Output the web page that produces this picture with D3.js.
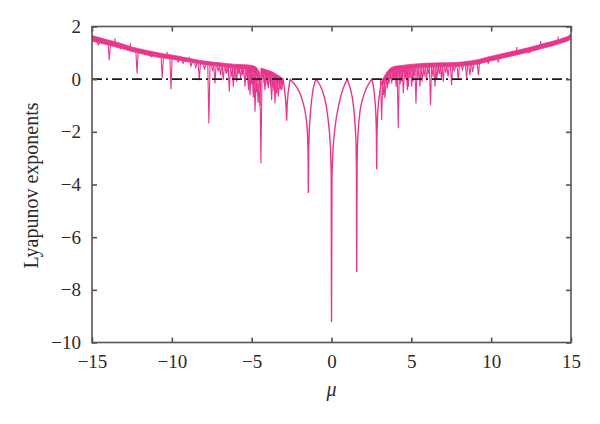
<!DOCTYPE html>
<html>
<head>
<meta charset="utf-8">
<script src="https://cdn.jsdelivr.net/npm/d3@7"></script>
<style>
  html, body { margin: 0; padding: 0; background: #fff; }
  svg { display: block; }
  text { font-family: "Liberation Serif", "DejaVu Serif", serif; fill: #2a2a2a; }
</style>
</head>
<body>
<svg id="chart" width="600" height="424"></svg>
<script>
// ---------------- DATA ----------------
const xTicks = [-15, -10, -5, 0, 5, 10, 15];
const yTicks = [2, 0, -2, -4, -6, -8, -10];
const xLabel = "μ";
const yLabel = "Lyapunov exponents";

// dense chaotic band, left part (μ, upper edge, lower edge)
const leftBandMu  = [-15, -14.5, -14, -13.5, -13, -12.5, -12, -11.5, -11, -10.5, -10, -9.5, -9, -8.5, -8, -7.5, -7, -6.5, -6, -5.5, -5.2, -4.95, -4.7, -4.5, -4.44];
const leftBandTop = [1.66, 1.57, 1.49, 1.41, 1.32, 1.22, 1.15, 1.08, 1.02, 0.96, 0.92, 0.86, 0.80, 0.74, 0.69, 0.65, 0.62, 0.59, 0.56, 0.55, 0.54, 0.52, 0.45, 0.25, 0.0];
const leftBandBot = [1.44, 1.37, 1.30, 1.22, 1.14, 1.05, 0.98, 0.91, 0.85, 0.80, 0.76, 0.71, 0.66, 0.61, 0.56, 0.52, 0.49, 0.45, 0.42, 0.40, 0.36, 0.30, 0.15, -0.15, -0.4];

// chaotic band just left of the periodic windows
const midBandMu  = [-4.42, -4.3, -4.1, -3.9, -3.7, -3.5, -3.3, -3.15, -3.03];
const midBandTop = [0.42, 0.40, 0.36, 0.32, 0.27, 0.20, 0.13, 0.07, 0.02];
const midBandBot = [0.20, 0.18, 0.14, 0.10, 0.04, -0.04, -0.10, -0.15, -0.2];

// dense chaotic band, right part
const rightBandMu  = [3.2, 3.35, 3.5, 3.7, 3.9, 4.1, 4.4, 4.8, 5.3, 5.8, 6.3, 6.8, 7.3, 7.8, 8.3, 8.8, 9.3, 9.8, 10.3, 10.8, 11.3, 11.8, 12.3, 12.8, 13.3, 13.8, 14.3, 14.8, 15];
const rightBandTop = [0.0, 0.15, 0.30, 0.42, 0.48, 0.50, 0.52, 0.55, 0.58, 0.60, 0.61, 0.62, 0.62, 0.63, 0.66, 0.70, 0.76, 0.84, 0.91, 0.98, 1.05, 1.12, 1.19, 1.27, 1.35, 1.43, 1.52, 1.62, 1.72];
const rightBandBot = [-0.15, -0.05, 0.08, 0.22, 0.30, 0.33, 0.36, 0.39, 0.43, 0.45, 0.46, 0.47, 0.47, 0.48, 0.50, 0.54, 0.59, 0.67, 0.74, 0.81, 0.88, 0.95, 1.02, 1.10, 1.18, 1.26, 1.35, 1.45, 1.54];

// periodic windows in the middle (smooth curve with cusps)
const archMu = [-3.03, -2.95, -2.88, -2.84, -2.81, -2.78, -2.72, -2.65, -2.58, -2.45, -2.3, -2.15, -2.0, -1.88, -1.77, -1.66, -1.57, -1.51, -1.47, -1.45, -1.43, -1.39, -1.33, -1.25, -1.15, -1.05, -0.96, -0.86, -0.72, -0.58, -0.45, -0.33, -0.22, -0.13, -0.06, -0.02, 0.0, 0.03, 0.1, 0.2, 0.32, 0.45, 0.58, 0.7, 0.84, 0.99, 1.1, 1.2, 1.3, 1.4, 1.47, 1.53, 1.56, 1.58, 1.6, 1.64, 1.7, 1.8, 1.92, 2.07, 2.22, 2.38, 2.53, 2.6, 2.67, 2.73, 2.78, 2.81, 2.83, 2.85, 2.89, 2.95, 3.03, 3.12, 3.2];
const archV  = [0.0, -0.35, -0.75, -1.1, -1.56, -1.0, -0.55, -0.22, 0.0, -0.1, -0.2, -0.33, -0.5, -0.7, -0.92, -1.2, -1.55, -2.0, -2.7, -4.3, -2.7, -1.9, -1.35, -0.8, -0.38, -0.13, 0.0, -0.08, -0.23, -0.42, -0.68, -1.0, -1.5, -2.0, -2.6, -3.6, -9.2, -3.6, -2.6, -1.9, -1.4, -0.98, -0.65, -0.4, -0.18, 0.0, -0.2, -0.4, -0.68, -1.15, -1.65, -2.3, -3.2, -7.3, -3.2, -2.3, -1.7, -1.15, -0.8, -0.52, -0.3, -0.13, 0.0, -0.2, -0.48, -0.85, -1.35, -2.0, -3.4, -2.0, -1.3, -0.85, -0.45, -0.15, 0.0];

// downward spikes out of the chaotic band (μ, depth)
const spikeMu = [-14.6, -13.92, -13.2, -12.18, -11.7, -11.3, -10.6, -10.05, -9.6, -9.3, -8.8, -8.5, -8.28, -7.95, -7.68, -7.45, -7.3, -7.1, -6.95, -6.78, -6.6, -6.5, -6.4, -6.25, -6.15, -6.05, -5.94, -5.85, -5.8, -5.69, -5.6, -5.55, -5.42, -5.3, -5.25, -5.2, -5.1, -5.05, -5.0, -4.9, -4.85, -4.79, -4.7, -4.6, -4.5, -4.42,
  -4.35, -4.3, -4.22, -4.17, -4.08, -4.02, -3.96, -3.85, -3.8, -3.75, -3.65, -3.6, -3.54, -3.43, -3.38, -3.33, -3.22, -3.17, -3.12,
  3.14, 3.25, 3.3, 3.35, 3.42, 3.49, 3.55, 3.6, 3.68, 3.77, 3.84, 3.9, 3.97, 4.05, 4.12, 4.18, 4.25, 4.3, 4.4, 4.45, 4.5, 4.62, 4.68, 4.75, 4.81, 4.92, 5.02, 5.1, 5.2, 5.29, 5.42, 5.54, 5.68, 5.8, 5.95, 6.05, 6.2, 6.35, 6.48, 6.6, 6.75, 6.88, 7.0, 7.15, 7.3, 7.52, 7.7, 7.94, 8.2, 8.46, 8.67, 8.84, 9.2, 9.82, 10.45, 12.4];
const spikeV  = [1.3, 0.72, 1.15, 0.22, 0.95, 0.85, 0.05, -0.38, 0.65, 0.6, 0.5, 0.45, -0.04, 0.35, -1.68, 0.3, -0.16, 0.3, 0.15, -0.04, 0.2, 0.3, -0.48, 0.1, -0.29, 0.05, -0.1, 0.25, 0.2, 0.03, 0.2, 0.15, -0.29, 0.1, 0.0, -0.42, -0.6, -0.1, -0.2, -0.7, -0.3, -1.24, -0.5, -0.9, -1.0, -3.2,
  0.05, 0.1, -0.15, -0.42, 0.0, -0.2, -0.35, -0.1, -0.3, -0.8, -0.3, -0.45, -0.92, -0.54, -0.3, -0.67, -0.4, -0.2, -0.42,
  -1.56, -0.6, -0.2, -0.73, -0.1, -0.35, -0.05, -0.2, 0.0, -0.16, 0.1, -0.05, 0.05, -0.3, 0.0, -1.86, 0.05, -0.2, -0.1, 0.1, -0.54, 0.0, 0.15, -0.42, -0.3, 0.05, -0.29, -0.1, 0.15, -0.92, 0.05, -0.29, -0.1, 0.1, -0.05, 0.2, -0.99, 0.1, -0.29, 0.0, 0.2, 0.05, -0.1, 0.25, 0.1, -0.23, 0.3, -0.04, 0.35, 0.03, 0.15, 0.28, 0.15, 0.6, 0.66, 1.0];

// small upward spikes above the band
const upMu = [-13.56, -12.6, -10.3, -8.9, 11.6, 13.1, 14.2];
const upV  = [1.55, 1.36, 1.04, 0.85, 1.22, 1.45, 1.62];

// ---------------- DRAW ----------------
const L = 92, R = 571, T = 26.5, B = 342.5;
const pink = "#e8368c";
const axisCol = "#555";

const svg = d3.select("#chart");
const x = d3.scaleLinear().domain([-15, 15]).range([L, R]);
const y = d3.scaleLinear().domain([-10, 2]).range([B, T]);

svg.append("defs").append("clipPath").attr("id", "clip")
  .append("rect").attr("x", L).attr("y", T).attr("width", R - L).attr("height", B - T);

const g = svg.append("g").attr("clip-path", "url(#clip)");

function bandRows(mu, top, bot) { return mu.map((m, i) => ({ m, t: top[i], b: bot[i] })); }
const bands = [
  bandRows(leftBandMu, leftBandTop, leftBandBot),
  bandRows(midBandMu, midBandTop, midBandBot),
  bandRows(rightBandMu, rightBandTop, rightBandBot)
];

const area = d3.area().x(d => x(d.m)).y0(d => y(d.b)).y1(d => y(d.t));
bands.forEach(b => {
  g.append("path").datum(b).attr("d", area)
    .attr("fill", pink).attr("stroke", pink).attr("stroke-width", 0.8);
});

// band edges at a given μ
function bandAt(m) {
  for (const b of bands) {
    if (m >= b[0].m && m <= b[b.length - 1].m) {
      const ms = b.map(d => d.m), bs = b.map(d => d.b), ts = b.map(d => d.t);
      const i = d3.bisectRight(ms, m);
      const i0 = Math.max(0, i - 1), i1 = Math.min(b.length - 1, i);
      const f = i1 === i0 ? 0 : (m - ms[i0]) / (ms[i1] - ms[i0]);
      return { b: bs[i0] + f * (bs[i1] - bs[i0]), t: ts[i0] + f * (ts[i1] - ts[i0]) };
    }
  }
  return { b: 0, t: 0 };
}

// downward spikes
const spikes = spikeMu.map((m, i) => ({ m, v: spikeV[i] }));
g.selectAll("path.spike").data(spikes).enter().append("path")
  .attr("class", "spike")
  .attr("d", d => {
    const s = bandAt(d.m);
    const start = Math.min(s.t - 0.04, Math.max(s.b, d.v + 0.05));
    return `M${x(d.m) - 1.1},${y(start)} L${x(d.m)},${y(d.v)} L${x(d.m) + 1.1},${y(start)}`;
  })
  .attr("fill", "none").attr("stroke", pink).attr("stroke-width", 1.1);

// upward spikes
const ups = upMu.map((m, i) => ({ m, v: upV[i] }));
g.selectAll("line.up").data(ups).enter().append("line")
  .attr("x1", d => x(d.m)).attr("x2", d => x(d.m))
  .attr("y1", d => y(bandAt(d.m).t - 0.05)).attr("y2", d => y(d.v))
  .attr("stroke", pink).attr("stroke-width", 1.2);

// periodic windows
const arch = archMu.map((m, i) => ({ m, v: archV[i] }));
g.append("path").datum(arch)
  .attr("d", d3.line().x(d => x(d.m)).y(d => y(d.v)))
  .attr("fill", "none").attr("stroke", pink).attr("stroke-width", 1.4)
  .attr("stroke-linejoin", "round");

// zero reference line (dash-dot)
svg.append("line")
  .attr("x1", L).attr("x2", R).attr("y1", y(0)).attr("y2", y(0))
  .attr("stroke", "#1a1a1a").attr("stroke-width", 1.6)
  .attr("stroke-dasharray", "10,4,2,4");

// frame
svg.append("rect").attr("x", L).attr("y", T).attr("width", R - L).attr("height", B - T)
  .attr("fill", "none").attr("stroke", axisCol).attr("stroke-width", 1.6);

const fmt = v => (v < 0 ? "\u2212" + Math.abs(v) : String(v));

// axes via d3 axis generators (inward ticks)
const axB = svg.append("g").attr("transform", `translate(0,${B})`)
  .call(d3.axisBottom(x).tickValues(xTicks).tickSize(-5).tickPadding(12).tickFormat(fmt));
const axT = svg.append("g").attr("transform", `translate(0,${T})`)
  .call(d3.axisTop(x).tickValues(xTicks).tickSize(-5).tickFormat(""));
const axL = svg.append("g").attr("transform", `translate(${L},0)`)
  .call(d3.axisLeft(y).tickValues(yTicks).tickSize(-5).tickPadding(11).tickFormat(fmt));
const axR = svg.append("g").attr("transform", `translate(${R},0)`)
  .call(d3.axisRight(y).tickValues(yTicks).tickSize(-5).tickFormat(""));

[axB, axT, axL, axR].forEach(a => {
  a.select(".domain").remove();
  a.selectAll(".tick line").attr("stroke", axisCol).attr("stroke-width", 1.6);
  a.selectAll(".tick text").attr("font-family", "'Liberation Serif', serif")
    .attr("font-size", 19).attr("fill", "#2a2a2a");
});

// axis titles
svg.append("text").attr("x", x(0)).attr("y", 396)
  .attr("text-anchor", "middle").attr("font-size", 20).attr("font-style", "italic")
  .text(xLabel);
svg.append("text")
  .attr("transform", `translate(38,${(T + B) / 2 + 1}) rotate(-90)`)
  .attr("text-anchor", "middle").attr("font-size", 20)
  .text(yLabel);
</script>
</body>
</html>
